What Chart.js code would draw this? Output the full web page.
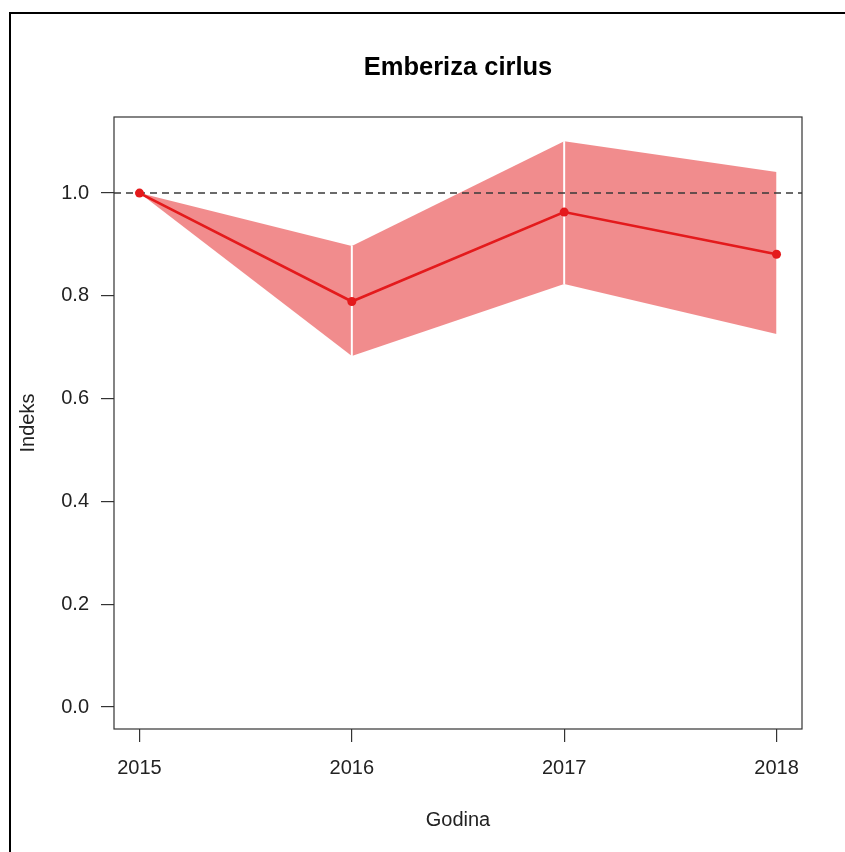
<!DOCTYPE html>
<html>
<head>
<meta charset="utf-8">
<script src="https://cdn.jsdelivr.net/npm/chart.js@4.4.1/dist/chart.umd.min.js"></script>
<style>
  html, body { margin: 0; padding: 0; background: #fff; }
  #wrap { position: relative; width: 845px; height: 852px; overflow: hidden; }
  #frame { position: absolute; left: 9px; top: 12px; width: 900px; height: 900px;
           border-left: 2px solid #000; border-top: 2px solid #000; }
  canvas { position: absolute; left: 0; top: 0; }
</style>
</head>
<body>
<div id="wrap">
  <div id="frame"></div>
  <canvas id="c" width="845" height="852"></canvas>
</div>
<script>
// Population index of Emberiza cirlus, with confidence limits
const years = [2015, 2016, 2017, 2018];
const indexValues = [1.0, 0.789, 0.963, 0.881];
const upperCI = [1.0, 0.897, 1.101, 1.041];
const lowerCI = [1.0, 0.683, 0.823, 0.726];
const yTickValues = [0, 0.2, 0.4, 0.6, 0.8, 1.0];
const referenceLevel = 1.0;

const chartTitle = 'Emberiza cirlus';
const xTitle = 'Godina';
const yTitle = 'Indeks';

const X_MIN = 2015 - 0.12, X_MAX = 2018 + 0.12;
const Y_MIN = -0.0428, Y_MAX = 1.148;

const RED = '#E41A1C';
const BAND = 'rgba(228,26,28,0.5)';
const FONT = '"Liberation Sans", Arial, Helvetica, sans-serif';

const pts = (xs, ys) => xs.map((x, i) => ({ x: x, y: ys[i] }));

const datasets = [];

// One shaded band polygon per year-to-year segment
for (let i = 0; i < years.length - 1; i++) {
  const xs = [years[i], years[i + 1]];
  datasets.push({
    data: pts(xs, [upperCI[i], upperCI[i + 1]]),
    borderWidth: 0, pointRadius: 0, fill: false, order: 10
  });
  datasets.push({
    data: pts(xs, [lowerCI[i], lowerCI[i + 1]]),
    borderWidth: 0, pointRadius: 0, backgroundColor: BAND, fill: '-1', order: 10
  });
}

// White seams between adjacent band polygons
for (let i = 1; i < years.length - 1; i++) {
  datasets.push({
    data: [{ x: years[i], y: lowerCI[i] }, { x: years[i], y: upperCI[i] }],
    borderColor: '#fff', borderWidth: 2, pointRadius: 0, fill: false, order: 5
  });
}

// Reference line at index 1
datasets.push({
  data: [{ x: X_MIN, y: referenceLevel }, { x: X_MAX, y: referenceLevel }],
  borderColor: '#3a3a3a', borderWidth: 1.4, borderDash: [7, 5],
  pointRadius: 0, fill: false, order: 3
});

// Index line with points
datasets.push({
  data: pts(years, indexValues),
  borderColor: RED, borderWidth: 2.6, backgroundColor: RED,
  pointRadius: 4.5, pointBorderWidth: 0, pointBackgroundColor: RED,
  fill: false, order: 1
});

const framePlugin = {
  id: 'frameAndTitles',
  afterDraw(chart) {
    const { ctx, chartArea: a } = chart;
    ctx.save();
    ctx.strokeStyle = '#333';
    ctx.lineWidth = 1.2;
    ctx.strokeRect(a.left, a.top, a.right - a.left, a.bottom - a.top);

    ctx.fillStyle = '#000';
    ctx.textAlign = 'center';
    ctx.textBaseline = 'middle';
    ctx.font = 'bold 25.5px ' + FONT;
    const cx = (a.left + a.right) / 2;
    ctx.fillText(chartTitle, cx, 68);

    ctx.fillStyle = '#222';
    ctx.font = '20px ' + FONT;
    ctx.fillText(xTitle, cx, 820);

    ctx.translate(28, (a.top + a.bottom) / 2);
    ctx.rotate(-Math.PI / 2);
    ctx.fillText(yTitle, 0, 0);
    ctx.restore();
  }
};

new Chart(document.getElementById('c'), {
  type: 'line',
  data: { datasets: datasets },
  options: {
    responsive: false,
    animation: false,
    events: [],
    layout: { padding: { left: 0, top: 117, right: 43, bottom: 0 } },
    plugins: { legend: { display: false }, tooltip: { enabled: false } },
    elements: { line: { tension: 0 } },
    scales: {
      x: {
        type: 'linear', min: X_MIN, max: X_MAX,
        border: { display: false },
        grid: { drawOnChartArea: false, drawTicks: true, tickLength: 13, color: '#333', lineWidth: 1.2 },
        afterBuildTicks: s => { s.ticks = years.map(v => ({ value: v })); },
        afterFit: s => { s.height = 852 - 729; },
        ticks: {
          padding: 14, color: '#222', font: { family: FONT, size: 20 },
          callback: v => String(v), maxRotation: 0, autoSkip: false
        }
      },
      y: {
        type: 'linear', min: Y_MIN, max: Y_MAX,
        border: { display: false },
        grid: { drawOnChartArea: false, drawTicks: true, tickLength: 13, color: '#333', lineWidth: 1.2 },
        afterBuildTicks: s => { s.ticks = yTickValues.map(v => ({ value: v })); },
        afterFit: s => { s.width = 114; },
        ticks: {
          padding: 12, color: '#222', font: { family: FONT, size: 20 },
          callback: v => Number(v).toFixed(1), autoSkip: false
        }
      }
    }
  },
  plugins: [framePlugin]
});
</script>
</body>
</html>
